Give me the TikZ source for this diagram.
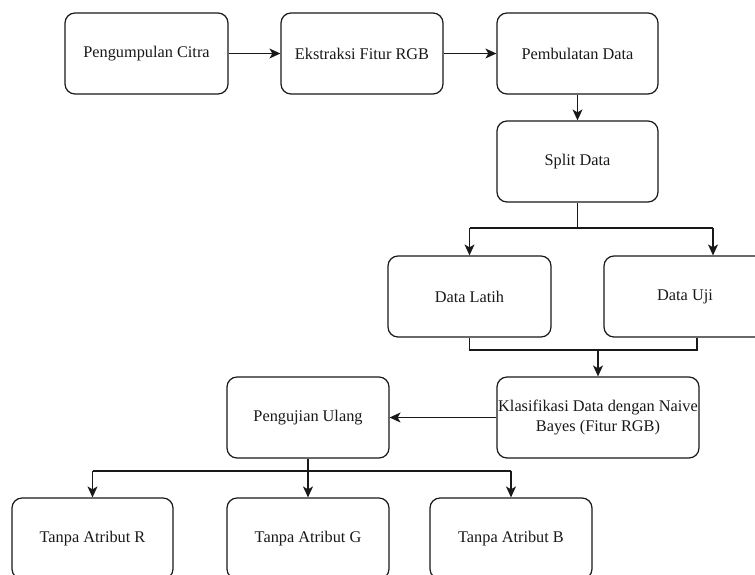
\documentclass[tikz,border=0pt]{standalone}
\usepackage{fontspec}
\setmainfont{Liberation Serif}
\usetikzlibrary{arrows.meta}
\begin{document}
\begin{tikzpicture}[x=1pt,y=-1pt,
  box/.style={draw=black!90, line width=1.2pt, rounded corners=10pt, fill=white,
    minimum width=162pt, minimum height=81pt, inner sep=0pt, align=center,
    font=\fontsize{16.3}{20}\selectfont, text=black!90},
  arr/.style={draw=black!90, line width=1.2pt, -{Stealth[length=11pt,width=10pt,inset=3pt]}},
  ln/.style={draw=black!90, line width=1.2pt}]
\useasboundingbox (0,0) rectangle (755,574);
\clip (0,0) rectangle (755,574);
\fill[white] (0,0) rectangle (755,574);
\node[box, minimum width=163pt] (c1) at (146.5,53.5) {Pengumpulan Citra};
\node[box] (c2) at (362,53.5) {Ekstraksi Fitur RGB};
\node[box, minimum width=161pt] (c3) at (577.5,53.5) {Pembulatan Data};
\node[box, minimum width=161pt] (split) at (577.5,161.5) {Split Data};
\node[box, minimum width=163pt] (latih) at (469.5,296.5) {Data Latih};
\node[box, draw=none] (uji) at (685,296.5) {Data Uji};
\draw[ln, rounded corners=10pt] (775,256) -- (604,256) -- (604,337) -- (775,337);
\node[box, minimum width=202pt] (klas) at (598,417.5) {Klasifikasi Data dengan Naive\\Bayes (Fitur RGB)};
\node[box] (peng) at (308,417.5) {Pengujian Ulang};
\node[box, minimum width=161pt] (R) at (92.5,538.5) {Tanpa Atribut R};
\node[box] (G) at (308,538.5) {Tanpa Atribut G};
\node[box] (B) at (511,538.5) {Tanpa Atribut B};
\coordinate (j1) at (577.5,228);
\coordinate (j2) at (598,350);
\coordinate (j3) at (308,471);
\coordinate (ujin) at ([xshift=28pt]uji.north);
\draw[arr] (c1) -- (c2);
\draw[arr] (c2) -- (c3);
\draw[arr] (c3) -- (split);
\draw[ln] (split.south) -- (j1);
\draw[ln] (latih.north |- j1) -- (ujin |- j1);
\draw[arr] (latih.north |- j1) -- (latih.north);
\draw[arr] (ujin |- j1) -- (ujin);
\draw[ln] (latih.south) |- (j2) -| ([xshift=12pt]uji.south);
\draw[arr] (j2) -- (klas.north);
\draw[arr] (klas.west) -- (peng.east);
\draw[ln] (R.north |- j3) -- (B.north |- j3);
\draw[arr] (peng.south) -- (G.north);
\draw[arr] (R.north |- j3) -- (R.north);
\draw[arr] (B.north |- j3) -- (B.north);
\end{tikzpicture}
\end{document}
